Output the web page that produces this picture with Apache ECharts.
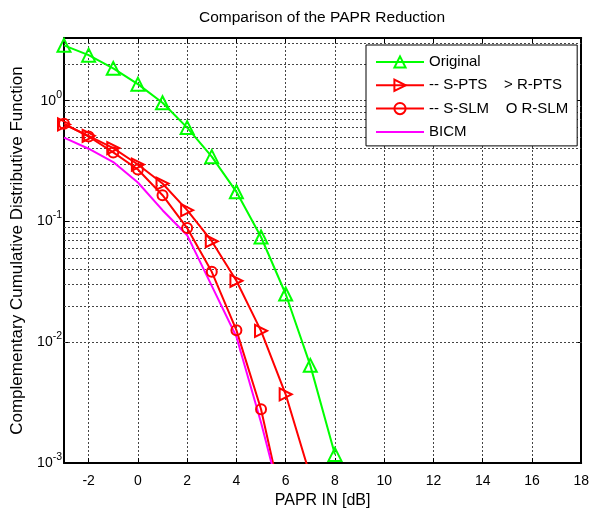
<!DOCTYPE html>
<html>
<head>
<meta charset="utf-8">
<script src="https://cdn.jsdelivr.net/npm/echarts@6/dist/echarts.min.js"></script>
<style>html,body{margin:0;padding:0;background:#fff;}#c{width:592px;height:514px;}</style>
</head>
<body>
<div id="c"></div>
<script>
// ---- data ----
const xOriginal = [-3, -2, -1, 0, 1, 2, 3, 4, 5, 6, 7, 8];
const original  = [2.87, 2.38, 1.85, 1.37, 0.96, 0.598, 0.344, 0.176, 0.0744, 0.0251, 0.00644, 0.00118];
const xPTS = [-3, -2, -1, 0, 1, 2, 3, 4, 5, 6, 7];
const sPTS = [0.636, 0.511, 0.405, 0.296, 0.206, 0.124, 0.0686, 0.0323, 0.01244, 0.00371, 0.00078];
const xSLM = [-3, -2, -1, 0, 1, 2, 3, 4, 5, 6];
const sSLM = [0.645, 0.505, 0.373, 0.269, 0.165, 0.0881, 0.0383, 0.0126, 0.00279, 0.00034];
const xBICM = [-3, -2, -1, 0, 1, 2, 3, 4, 5, 6];
const bicm  = [0.495, 0.40, 0.31, 0.21, 0.124, 0.077, 0.0293, 0.0111, 0.00217, 0.00035];
const seriesNames = ['Original', '-- S-PTS    > R-PTS', '-- S-SLM    O R-SLM', 'BICM'];
const minorGridY = [0.002,0.003,0.004,0.005,0.006,0.007,0.008,0.009,
                    0.02,0.03,0.04,0.05,0.06,0.07,0.08,0.09,
                    0.2,0.3,0.4,0.5,0.6,0.7,0.8,0.9,
                    2,3];
const xMin = -3, xMax = 18, yMin = 0.001, yMax = 3.3;

const FONT = 'Liberation Sans, Arial, sans-serif';
const pair = (xs, ys) => xs.map((x, i) => [x, ys[i]]);
const gridLine = {color: '#444', type: [2, 2], width: 1};

const chart = echarts.init(document.getElementById('c'));
chart.setOption({
  animation: false,
  backgroundColor: '#fff',
  title: {
    text: 'Comparison of the PAPR Reduction',
    left: 194, top: 5,
    textStyle: {fontFamily: FONT, fontSize: 15.5, fontWeight: 'normal', color: '#000'}
  },
  grid: {left: 64, right: 10, top: 38, bottom: 47},
  legend: {
    z: 50,
    data: [
      {name: seriesNames[0]},
      {name: seriesNames[1]},
      {name: seriesNames[2]},
      {name: seriesNames[3], itemStyle: {opacity: 0}}
    ],
    orient: 'vertical',
    left: 366, top: 45,
    itemWidth: 48, itemHeight: 14, itemGap: 8.3,
    padding: [9.5, 9, 6.5, 9],
    backgroundColor: '#fff',
    borderColor: '#000', borderWidth: 1,
    textStyle: {fontFamily: FONT, fontSize: 15, color: '#000', lineHeight: 14}
  },
  xAxis: [{
    type: 'value', min: xMin, max: xMax, splitNumber: 10,
    name: 'PAPR IN [dB]', nameLocation: 'middle', nameGap: 28,
    nameTextStyle: {fontFamily: FONT, fontSize: 16, color: '#000'},
    axisLine: {show: true, onZero: false, lineStyle: {color: '#000', width: 2}},
    axisTick: {show: true, inside: true, length: 5, lineStyle: {color: '#000'}},
    axisLabel: {fontFamily: FONT, fontSize: 14, color: '#000', margin: 11, showMinLabel: false},
    splitLine: {show: true, lineStyle: gridLine}
  }, {
    type: 'value', min: xMin, max: xMax, splitNumber: 10, position: 'top',
    axisLine: {show: true, onZero: false, lineStyle: {color: '#000', width: 2}},
    axisTick: {show: true, inside: true, length: 5, lineStyle: {color: '#000'}},
    axisLabel: {show: false}, splitLine: {show: false}
  }],
  yAxis: [{
    type: 'log', logBase: 10, min: yMin, max: yMax,
    name: 'Complementary Cumulative Distributive Function',
    nameLocation: 'middle', nameGap: 38, nameRotate: 90,
    nameTextStyle: {fontFamily: FONT, fontSize: 17, color: '#000'},
    axisLine: {show: true, onZero: false, lineStyle: {color: '#000', width: 2}},
    axisTick: {show: true, inside: true, length: 5, lineStyle: {color: '#000'}},
    axisLabel: {
      margin: 2, showMaxLabel: false,
      formatter: function (v) {
        const e = Math.log10(v), r = Math.round(e);
        if (Math.abs(e - r) > 1e-6) return '';
        return '{b|10}{s|' + r + '}';
      },
      rich: {
        b: {fontFamily: FONT, fontSize: 14, color: '#000'},
        s: {fontFamily: FONT, fontSize: 10.5, color: '#000', padding: [0, 0, 12, 0]}
      }
    },
    splitLine: {show: true, lineStyle: gridLine}
  }, {
    type: 'log', logBase: 10, min: yMin, max: yMax, position: 'right',
    axisLine: {show: true, onZero: false, lineStyle: {color: '#000', width: 2}},
    axisTick: {show: true, inside: true, length: 5, lineStyle: {color: '#000'}},
    axisLabel: {show: false}, splitLine: {show: false}
  }],
  series: [
    {
      name: 'minor-grid', type: 'line', data: [], z: 1, silent: true,
      markLine: {
        silent: true, symbol: 'none', label: {show: false}, z: 1,
        lineStyle: gridLine, animation: false,
        data: minorGridY.map(v => ({yAxis: v}))
      }
    },
    {
      name: seriesNames[0], type: 'line', data: pair(xOriginal, original),
      symbol: 'triangle', symbolSize: 13,
      lineStyle: {color: '#00ff00', width: 2},
      itemStyle: {color: 'rgba(0,0,0,0)', borderColor: '#00ff00', borderWidth: 2}
    },
    {
      name: seriesNames[1], type: 'line', data: pair(xPTS, sPTS),
      symbol: 'triangle', symbolSize: 12, symbolRotate: -90,
      lineStyle: {color: '#ff0000', width: 2},
      itemStyle: {color: 'rgba(0,0,0,0)', borderColor: '#ff0000', borderWidth: 2}
    },
    {
      name: seriesNames[2], type: 'line', data: pair(xSLM, sSLM),
      symbol: 'circle', symbolSize: 10,
      lineStyle: {color: '#ff0000', width: 2},
      itemStyle: {color: 'rgba(0,0,0,0)', borderColor: '#ff0000', borderWidth: 2}
    },
    {
      name: seriesNames[3], type: 'line', data: pair(xBICM, bicm),
      symbol: 'none',
      lineStyle: {color: '#ff00ff', width: 2},
      itemStyle: {color: '#ff00ff'}
    }
  ]
});
</script>
</body>
</html>
